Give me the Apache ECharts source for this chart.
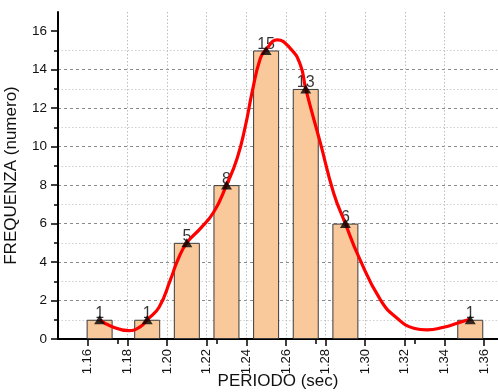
<!DOCTYPE html>
<html><head><meta charset="utf-8">
<script src="https://cdn.jsdelivr.net/npm/echarts@6/dist/echarts.min.js"></script>
<style>html,body{margin:0;padding:0;background:#fff}#c{width:498px;height:392px}</style>
</head><body><div id="c"></div>
<script>
// Histogram bins (bar centers, sec) and counts
const binCenters = [1.166, 1.190, 1.210, 1.230, 1.250, 1.270, 1.290, 1.353];
const frequencies = [1, 1, 5, 8, 15, 13, 6, 1];
// Red fitted curve
const curveX = [1.1661, 1.1715, 1.1807, 1.1866, 1.1900, 1.1960, 1.2017, 1.2054, 1.2100, 1.2169, 1.2236, 1.2300, 1.2354, 1.2396, 1.2430, 1.2471, 1.2500, 1.2556, 1.2623, 1.2673, 1.2700, 1.2774, 1.2841, 1.2900, 1.2967, 1.3077, 1.3161, 1.3245, 1.3312, 1.3396, 1.3464, 1.3531];
const curveY = [1.0, 0.68, 0.44, 0.64, 1.0, 1.65, 3.07, 4.1, 5.0, 5.75, 6.6, 8.0, 9.4, 11.1, 12.86, 14.6, 15.05, 15.55, 15.1, 14.25, 13.0, 10.18, 7.58, 6.0, 4.28, 2.03, 1.08, 0.56, 0.47, 0.61, 0.82, 1.04];
// Tick labels
const xTickValues = [1.16, 1.18, 1.20, 1.22, 1.24, 1.26, 1.28, 1.30, 1.32, 1.34, 1.36];
const yTickValues = [0, 2, 4, 6, 8, 10, 12, 14, 16];

const FONT = 'Liberation Sans, Arial, sans-serif';
const chart = echarts.init(document.getElementById('c'), null, {renderer: 'canvas'});
const pts = binCenters.map((x, i) => [x, frequencies[i]]);
const curve = curveX.map((x, i) => [x, curveY[i]]);

chart.setOption({
  animation: false,
  backgroundColor: '#fff',
  grid: {left: 58, right: 0, top: 12, bottom: 53, containLabel: false, outerBoundsMode: 'none'},
  xAxis: {
    type: 'value', min: 1.145, max: 1.367,
    name: 'PERIODO (sec)', nameLocation: 'middle', nameGap: 34, nameMoveOverlap: false,
    nameTextStyle: {fontFamily: FONT, fontSize: 17, color: '#111'},
    axisLine: {show: true, onZero: false, lineStyle: {color: '#000', width: 2}},
    axisTick: {show: true, customValues: xTickValues, length: 7, lineStyle: {color: '#000', width: 1.5}},
    minorTick: {show: true, splitNumber: 2, length: 5, lineStyle: {color: '#000', width: 1.5}},
    axisLabel: {customValues: xTickValues, rotate: 90, margin: 10, fontFamily: FONT, fontSize: 13, color: '#111',
      formatter: v => Number(v).toFixed(2)},
    splitLine: {show: true, showMinLine: false, showMaxLine: false, lineStyle: {color: '#bdbdbd', type: [1.5, 2], width: 1}},
    minorSplitLine: {show: false}
  },
  yAxis: {
    type: 'value', min: 0, max: 17, interval: 2,
    name: 'FREQUENZA (numero)', nameLocation: 'middle', nameGap: 38, nameMoveOverlap: false,
    nameTextStyle: {fontFamily: FONT, fontSize: 17, color: '#111'},
    axisLine: {show: true, lineStyle: {color: '#000', width: 2}},
    axisTick: {show: true, customValues: yTickValues, length: 7, lineStyle: {color: '#000', width: 1.5}},
    minorTick: {show: true, splitNumber: 2, length: 4, lineStyle: {color: '#000', width: 1.5}},
    axisLabel: {customValues: yTickValues, margin: 11, fontFamily: FONT, fontSize: 13.5, color: '#111'},
    splitLine: {show: true, showMinLine: false, showMaxLine: false, lineStyle: {color: '#8a8a8a', type: [3, 3], width: 1}},
    minorSplitLine: {show: true, lineStyle: {color: '#cfcfcf', type: [1.5, 2], width: 1}}
  },
  series: [
    {
      type: 'bar', data: pts, barWidth: 26, z: 1,
      itemStyle: {color: '#F9C99B', borderColor: '#3a3a3a', borderWidth: 1}
    },
    {
      type: 'scatter', data: pts, symbolSize: 1, z: 2, silent: true,
      itemStyle: {color: 'transparent'},
      label: {show: true, position: 'inside', offset: [0, -6], fontFamily: FONT, fontSize: 16, color: '#000',
        formatter: p => String(p.value[1])}
    },
    {
      type: 'line', data: curve, smooth: 0.5, showSymbol: false, symbol: 'none', z: 3,
      lineStyle: {color: '#ff0000', width: 3.2}
    },
    {
      type: 'scatter', data: pts, symbol: 'triangle', symbolSize: [11, 9], z: 4,
      itemStyle: {color: '#000'}
    }
  ]
});
</script></body></html>
